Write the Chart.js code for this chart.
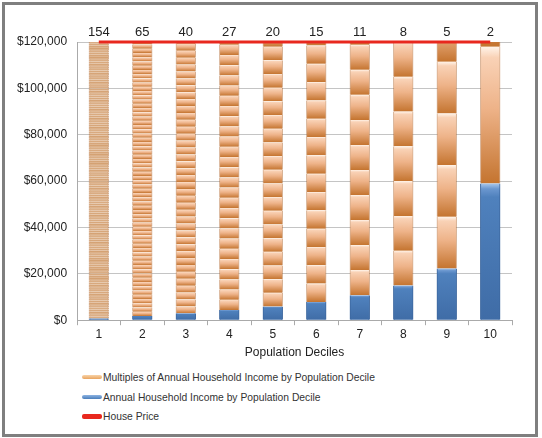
<!DOCTYPE html>
<html lang="en">
   <head>
      <meta charset="UTF-8" />
      <title>House Price in Multiples of Household Income</title>
      <script src="https://cdn.jsdelivr.net/npm/chart.js"></script>
      <style>
         body {
            margin: 0;
            background: #fff;
            font-family: 'Liberation Sans', Arial, sans-serif;
         }
         .frame {
            position: absolute;
            left: 2px;
            top: 2px;
            width: 530px;
            height: 429px;
            border: 3px solid #7f7f7f;
         }
         .plot {
            position: absolute;
            left: 0;
            top: 0;
            width: 530px;
            height: 355px;
         }
         .legend {
            position: absolute;
            left: 77px;
            top: 363px;
            font-size: 10.3px;
            color: #333;
         }
         .legend div {
            height: 19.5px;
            line-height: 19.5px;
            white-space: nowrap;
         }
         .legend span {
            display: inline-block;
            width: 20px;
            height: 4px;
            border-radius: 2px;
            vertical-align: middle;
            margin-right: 1px;
            position: relative;
            top: -1px;
         }
      </style>
   </head>
   <body>
      <div class="frame">
         <div class="plot"><canvas id="chart"></canvas></div>
         <div class="legend">
            <div><span style="background: linear-gradient(#f8d3a8, #e9a45e)"></span>Multiples of Annual Household Income by Population Decile</div>
            <div><span style="background: linear-gradient(#8db3e2, #4a7ebb)"></span>Annual Household Income by Population Decile</div>
            <div><span style="background: #e8281e; height: 5px"></span>House Price</div>
         </div>
      </div>
      <script>
         const deciles = ['1', '2', '3', '4', '5', '6', '7', '8', '9', '10'];
         const householdIncome = [775, 1830, 2980, 4400, 5900, 7900, 10800, 15000, 22300, 59000];
         const incomeMultiples = [154, 65, 40, 27, 20, 15, 11, 8, 5, 2];
         const housePrice = 120000;

         const font = "'Liberation Sans', Arial, sans-serif";

         // each orange piece is one more year of income stacked on the blue bar
         function segmentFill(k) {
            return (ctx) => {
               const chart = ctx.chart;
               const y = chart.scales.y;
               if (ctx.type !== 'data' || !chart.chartArea || !y) return k < 0 ? '#4a7ebb' : '#e9a45e';
               const v = householdIncome[ctx.dataIndex];
               const top = y.getPixelForValue(v * (k + 2));
               const bot = y.getPixelForValue(v * (k + 1));
               const g = chart.ctx.createLinearGradient(0, top, 0, bot);
               if (k < 0) {
                  g.addColorStop(0, '#a9c8ec');
                  g.addColorStop(0.04, '#6b97cf');
                  g.addColorStop(0.1, '#4f81bd');
                  g.addColorStop(1, '#3f6ca6');
               } else if (bot - top < 3) {
                  // very thin pieces blur into a tan texture
                  g.addColorStop(0, '#e2bc9a');
                  g.addColorStop(1, '#d09a68');
               } else {
                  g.addColorStop(0, '#fff4ea');
                  g.addColorStop(0.08, '#f9d2b6');
                  g.addColorStop(0.45, '#eeb389');
                  g.addColorStop(1, '#c4742f');
               }
               return g;
            };
         }

         const datasets = [
            {
               label: 'Annual Household Income by Population Decile',
               data: householdIncome,
               backgroundColor: segmentFill(-1),
               borderColor: '#3c679f',
               borderWidth: { left: 1, right: 1, top: 0, bottom: 0 },
               borderSkipped: false,
               stack: 'bars',
               order: 1,
            },
         ];
         const maxMultiple = Math.max(...incomeMultiples);
         for (let k = 0; k < maxMultiple; k++) {
            datasets.push({
               label: 'Multiples of Annual Household Income by Population Decile',
               data: householdIncome.map((v, i) => (k < incomeMultiples[i] ? v : null)),
               backgroundColor: segmentFill(k),
               borderColor: 'rgba(178, 105, 50, 0.55)',
               borderWidth: { left: 1, right: 1, top: 0, bottom: 0 },
               borderSkipped: false,
               stack: 'bars',
               order: 1,
            });
         }
         datasets.push({
            type: 'line',
            label: 'House Price',
            data: deciles.map(() => housePrice),
            borderColor: '#e8281e',
            borderWidth: 3,
            pointRadius: 0,
            stack: 'price',
            order: 0,
            clip: false,
         });

         const topLabels = {
            id: 'topLabels',
            afterDatasetsDraw(chart) {
               const c = chart.ctx;
               const x = chart.scales.x;
               const y = chart.scales.y;
               c.save();
               c.font = '13px ' + font;
               c.fillStyle = '#222';
               c.textAlign = 'center';
               c.textBaseline = 'alphabetic';
               incomeMultiples.forEach((m, i) => {
                  c.fillText(String(m), x.getPixelForValue(i), y.getPixelForValue(housePrice) - 6);
               });
               c.restore();
            },
         };

         new Chart(document.getElementById('chart'), {
            type: 'bar',
            data: { labels: deciles, datasets: datasets },
            plugins: [topLabels],
            options: {
               animation: false,
               responsive: true,
               maintainAspectRatio: false,
               layout: { padding: { top: 37, right: 23, left: 2, bottom: 0 } },
               datasets: {
                  bar: { categoryPercentage: 0.9, barPercentage: 0.5, clip: 0, inflateAmount: 0.4 },
               },
               plugins: {
                  legend: { display: false },
                  tooltip: { enabled: false },
               },
               scales: {
                  x: {
                     stacked: true,
                     grid: { drawOnChartArea: false, drawTicks: true, tickLength: 5, color: '#aaa' },
                     border: { color: '#aaa' },
                     ticks: { color: '#222', font: { family: font, size: 12 }, padding: 2 },
                     title: {
                        display: true,
                        text: 'Population Deciles',
                        color: '#222',
                        font: { family: font, size: 12 },
                        padding: { top: 2, bottom: 0 },
                     },
                  },
                  y: {
                     stacked: true,
                     min: 0,
                     max: housePrice,
                     grid: { color: '#c4c4c4', drawTicks: false },
                     border: { color: '#aaa' },
                     ticks: {
                        stepSize: 20000,
                        color: '#222',
                        padding: 10,
                        font: { family: font, size: 12 },
                        callback: (v) => '$' + v.toLocaleString('en-US'),
                     },
                  },
               },
            },
         });
      </script>
   </body>
</html>
